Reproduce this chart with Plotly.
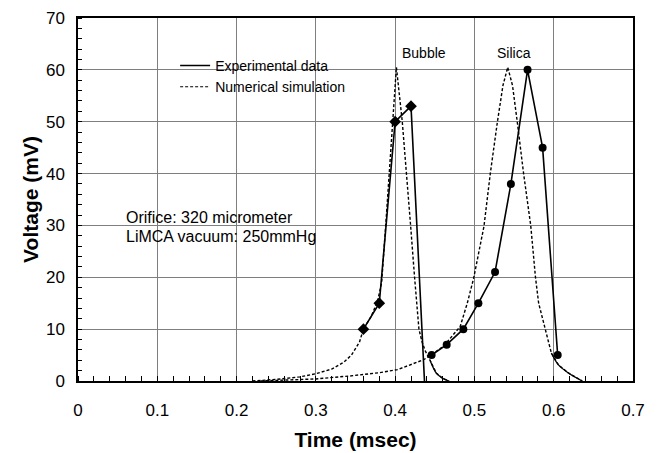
import plotly.graph_objects as go

# Experimental data (markers)
bubble_exp_t = [0.36, 0.38, 0.40, 0.42, 0.437]
bubble_exp_v = [10, 15, 50, 53, 0]
silica_exp_t = [0.446, 0.465, 0.486, 0.505, 0.526, 0.546, 0.567, 0.586, 0.605]
silica_exp_v = [5, 7, 10, 15, 21, 38, 60, 45, 5]

# Numerical simulation
bubble_sim_t = [0.22, 0.25, 0.28, 0.30, 0.32, 0.335, 0.345, 0.355, 0.36, 0.37, 0.378,
                0.383, 0.388, 0.3925, 0.3966, 0.4016, 0.409, 0.4146, 0.4195, 0.4245,
                0.43, 0.434, 0.438, 0.444, 0.452, 0.46, 0.468]
bubble_sim_v = [0, 0.3, 0.8, 1.4, 2.3, 3.6, 5, 7.5, 10, 12.5, 15.5,
                19, 29.8, 40, 50, 60.5, 50, 40, 30, 20,
                10, 7.5, 5.8, 4, 1.5, 0.5, 0]
silica_sim_t = [0.23, 0.27, 0.30, 0.345, 0.38, 0.403, 0.436, 0.461, 0.482, 0.491,
                0.499, 0.512, 0.52, 0.529, 0.536, 0.542, 0.548, 0.554, 0.562, 0.571,
                0.577, 0.581, 0.589, 0.597, 0.606, 0.619, 0.636]
silica_sim_v = [0, 0.2, 0.4, 1.0, 1.6, 2.2, 4.1, 6.7, 10.5, 15,
                19.8, 29.8, 40, 50, 57, 60.5, 57, 50, 40, 30,
                20, 15, 10, 5.4, 3.1, 1.5, 0]
# index where simulated tails are drawn solid
bubble_tail_start = 23
silica_tail_start = 23

x_ticks = [0, 0.1, 0.2, 0.3, 0.4, 0.5, 0.6, 0.7]
x_tick_labels = ["0", "0.1", "0.2", "0.3", "0.4", "0.5", "0.6", "0.7"]
y_ticks = [0, 10, 20, 30, 40, 50, 60, 70]

FONT = "Liberation Sans, Arial, Helvetica, sans-serif"
DOT = "3px,2px"

fig = go.Figure()

# simulation curves (dotted)
for t, v in [(bubble_sim_t, bubble_sim_v), (silica_sim_t, silica_sim_v)]:
    fig.add_trace(go.Scatter(x=t, y=v, mode="lines",
                             line=dict(color="black", width=1.4, dash=DOT),
                             showlegend=False, hoverinfo="skip"))
# simulated tails (drawn solid)
fig.add_trace(go.Scatter(x=bubble_sim_t[bubble_tail_start:], y=bubble_sim_v[bubble_tail_start:],
                         mode="lines", line=dict(color="black", width=1.3, shape="spline"),
                         showlegend=False))
fig.add_trace(go.Scatter(x=silica_sim_t[silica_tail_start:], y=silica_sim_v[silica_tail_start:],
                         mode="lines", line=dict(color="black", width=1.3, shape="spline"),
                         showlegend=False))

# experimental data
fig.add_trace(go.Scatter(x=bubble_exp_t[:-1], y=bubble_exp_v[:-1], mode="markers",
                         marker=dict(symbol="diamond", size=9, color="black"),
                         showlegend=False))
fig.add_trace(go.Scatter(x=bubble_exp_t, y=bubble_exp_v, mode="lines",
                         line=dict(color="black", width=1.6), showlegend=False))
fig.add_trace(go.Scatter(x=silica_exp_t, y=silica_exp_v, mode="lines+markers",
                         line=dict(color="black", width=1.6),
                         marker=dict(symbol="circle", size=8, color="black"),
                         showlegend=False))

# legend entries
fig.add_trace(go.Scatter(x=[None], y=[None], mode="lines", name="Experimental data",
                         line=dict(color="black", width=1.6)))
fig.add_trace(go.Scatter(x=[None], y=[None], mode="lines", name="Numerical simulation",
                         line=dict(color="black", width=1.2, dash=DOT)))

fig.add_annotation(x=0.436, y=63.2, text="Bubble", showarrow=False,
                   font=dict(size=14, color="black", family=FONT))
fig.add_annotation(x=0.5505, y=63.2, text="Silica", showarrow=False,
                   font=dict(size=14, color="black", family=FONT))
fig.add_annotation(x=0.058, y=31.6, text="Orifice: 320 micrometer", showarrow=False,
                   xanchor="left", font=dict(size=16, color="black", family=FONT))
fig.add_annotation(x=0.058, y=27.9, text="LiMCA vacuum: 250mmHg", showarrow=False,
                   xanchor="left", font=dict(size=16, color="black", family=FONT))

# the page body adds an 8px offset; the figure is sized so the plot lands in place
fig.update_layout(
    width=654, height=448,
    margin=dict(l=70, r=29, t=10, b=75),
    plot_bgcolor="white", paper_bgcolor="white",
    font=dict(family=FONT, color="black"),
    legend=dict(x=0.175, y=0.912, xanchor="left", yanchor="top",
                bgcolor="rgba(0,0,0,0)", font=dict(size=14, color="black"),
                itemwidth=30, tracegroupgap=0),
    xaxis=dict(range=[0, 0.7], tickvals=x_ticks, ticktext=x_tick_labels,
               automargin=False, ticklabeloverflow="allow",
               showgrid=True, gridcolor="#7f7f7f", gridwidth=1,
               showline=True, linecolor="black", linewidth=1.5, mirror=True,
               ticks="", ticklabelstandoff=13, zeroline=False,
               tickfont=dict(size=17, family=FONT),
               minor=dict(dtick=0.02, ticks="inside", ticklen=5, tickcolor="black",
                          showgrid=False),
               title=dict(text="<b>Time (msec)</b>", font=dict(size=21, family=FONT),
                          standoff=13)),
    yaxis=dict(range=[0, 70], tickvals=y_ticks,
               automargin=False, ticklabeloverflow="allow",
               showgrid=True, gridcolor="#7f7f7f", gridwidth=1,
               showline=True, linecolor="black", linewidth=1.5, mirror=True,
               ticks="", ticklabelstandoff=8, zeroline=False,
               tickfont=dict(size=17, family=FONT),
               minor=dict(dtick=2, ticks="inside", ticklen=4, tickcolor="black",
                          showgrid=False),
               title=dict(text="<b>Voltage (mV)</b>", font=dict(size=21, family=FONT),
                          standoff=2)),
)

fig.write_html("out.html")
